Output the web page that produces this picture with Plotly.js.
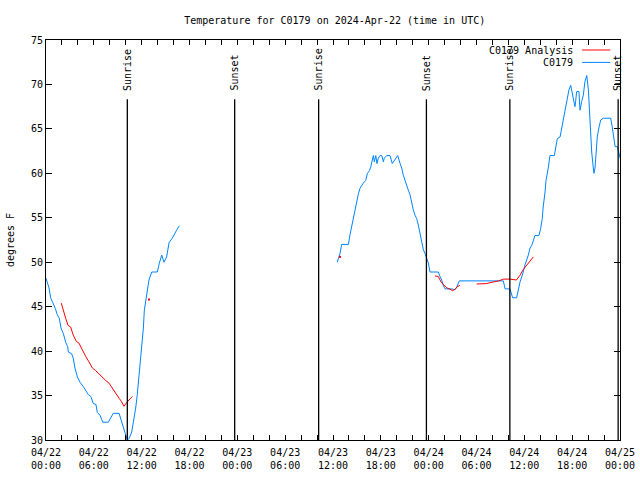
<!DOCTYPE html>
<html>
<head>
<meta charset="utf-8">
<script src="https://cdn.plot.ly/plotly-3.0.1.min.js"></script>
<style>html,body{margin:0;padding:0;background:#fff;}#chart{width:640px;height:480px;}</style>
</head>
<body>
<div id="chart"></div>
<script>
// ---- Data ----
const blueTimes = [
"2024-04-22 00:00","2024-04-22 00:05","2024-04-22 00:23","2024-04-22 00:35","2024-04-22 00:55","2024-04-22 01:10",
"2024-04-22 01:25","2024-04-22 01:40","2024-04-22 01:53","2024-04-22 02:10","2024-04-22 02:28","2024-04-22 02:43",
"2024-04-22 02:48","2024-04-22 03:13","2024-04-22 03:25","2024-04-22 03:38","2024-04-22 03:56","2024-04-22 04:16",
"2024-04-22 04:41","2024-04-22 05:01","2024-04-22 05:19","2024-04-22 05:37","2024-04-22 05:56","2024-04-22 06:16",
"2024-04-22 06:26","2024-04-22 06:46","2024-04-22 07:07","2024-04-22 07:49","2024-04-22 08:26","2024-04-22 09:10",
"2024-04-22 09:30","2024-04-22 09:55","2024-04-22 10:12","2024-04-22 10:27","2024-04-22 10:45","2024-04-22 10:57",
"2024-04-22 11:15","2024-04-22 11:27","2024-04-22 11:40","2024-04-22 11:53","2024-04-22 12:13","2024-04-22 12:20",
"2024-04-22 12:38","2024-04-22 12:55","2024-04-22 13:16","2024-04-22 13:58","2024-04-22 14:13","2024-04-22 14:31",
"2024-04-22 14:48","2024-04-22 15:08","2024-04-22 15:26","2024-04-22 15:50","2024-04-22 16:23","2024-04-22 16:43",
"2024-04-23 00:00",
"2024-04-23 12:32","2024-04-23 12:45","2024-04-23 12:53","2024-04-23 13:05","2024-04-23 13:56","2024-04-23 14:08",
"2024-04-23 14:20","2024-04-23 14:33","2024-04-23 14:46","2024-04-23 14:58","2024-04-23 15:11","2024-04-23 15:23",
"2024-04-23 15:36","2024-04-23 15:48","2024-04-23 16:06","2024-04-23 16:19","2024-04-23 16:34","2024-04-23 16:44",
"2024-04-23 16:56","2024-04-23 17:04","2024-04-23 17:11","2024-04-23 17:22","2024-04-23 17:31","2024-04-23 17:41",
"2024-04-23 17:54","2024-04-23 18:07","2024-04-23 18:19","2024-04-23 18:26","2024-04-23 18:44","2024-04-23 19:09",
"2024-04-23 19:26","2024-04-23 19:47","2024-04-23 20:07","2024-04-23 20:25","2024-04-23 20:37","2024-04-23 20:49",
"2024-04-23 21:02","2024-04-23 21:14","2024-04-23 21:27","2024-04-23 21:40","2024-04-23 21:52","2024-04-23 22:04",
"2024-04-23 22:17","2024-04-23 22:30","2024-04-23 22:42","2024-04-23 22:55","2024-04-23 23:07","2024-04-23 23:20",
"2024-04-23 23:32","2024-04-23 23:45","2024-04-23 23:58","2024-04-24 00:10","2024-04-24 01:13","2024-04-24 01:25",
"2024-04-24 01:38","2024-04-24 01:50","2024-04-24 02:03","2024-04-24 02:53","2024-04-24 03:18","2024-04-24 03:31",
"2024-04-24 03:51","2024-04-24 09:22","2024-04-24 09:35","2024-04-24 10:12","2024-04-24 10:32","2024-04-24 11:02",
"2024-04-24 11:15","2024-04-24 11:28","2024-04-24 11:48","2024-04-24 12:05","2024-04-24 12:30","2024-04-24 12:43",
"2024-04-24 12:56","2024-04-24 13:20","2024-04-24 13:50","2024-04-24 14:03","2024-04-24 14:15","2024-04-24 14:21",
"2024-04-24 14:36","2024-04-24 14:43","2024-04-24 15:00","2024-04-24 15:13","2024-04-24 15:46","2024-04-24 15:58",
"2024-04-24 16:08","2024-04-24 16:29","2024-04-24 16:41","2024-04-24 16:53","2024-04-24 17:06","2024-04-24 17:19",
"2024-04-24 17:36","2024-04-24 17:49","2024-04-24 18:00","2024-04-24 18:12","2024-04-24 18:21","2024-04-24 18:26",
"2024-04-24 18:34","2024-04-24 18:51","2024-04-24 18:59","2024-04-24 19:12","2024-04-24 19:24","2024-04-24 19:36",
"2024-04-24 19:50","2024-04-24 20:02","2024-04-24 20:14","2024-04-24 20:27","2024-04-24 20:39","2024-04-24 20:44",
"2024-04-24 20:52","2024-04-24 20:59","2024-04-24 21:09","2024-04-24 21:22","2024-04-24 21:35","2024-04-24 21:55",
"2024-04-24 22:50","2024-04-24 23:02","2024-04-24 23:15","2024-04-24 23:23","2024-04-24 23:40","2024-04-24 23:53",
"2024-04-25 00:05"
];
const blueTemps = [
48.2,48.0,47.1,46.0,45.4,44.8,
44.1,43.7,42.6,42.0,41.0,40.5,
39.9,39.7,39.2,38.1,37.1,36.5,
36.0,35.6,35.1,34.9,34.1,34.0,
33.1,32.8,32.0,32.0,33.0,33.0,
31.9,30.8,30.0,30.2,30.9,31.9,
33.6,35.1,37.1,39.3,42.6,44.6,
46.3,48.0,48.9,48.9,49.9,50.8,
50.0,50.6,52.2,52.7,53.6,54.1,
null,
50.0,50.6,51.0,52.0,52.0,53.1,
54.0,54.9,56.2,57.0,57.7,58.3,
58.7,58.9,59.2,60.0,60.3,60.7,
61.5,62.0,61.3,62.0,61.1,61.7,
62.0,62.0,61.3,61.7,62.0,62.0,
61.1,61.5,62.0,61.1,60.6,59.8,
59.2,58.5,58.1,57.6,56.6,55.9,
55.3,54.9,54.2,53.2,52.3,51.4,
51.0,50.4,49.9,48.9,48.9,48.4,
48.0,47.4,47.0,47.0,46.9,47.2,
47.9,47.9,47.0,47.0,46.0,46.0,
47.0,47.8,48.7,49.7,50.8,51.6,
51.9,53.0,53.0,53.8,54.9,56.1,
57.9,59.2,60.6,62.0,62.0,63.0,
63.9,64.1,65.1,66.2,67.3,68.2,
69.4,69.9,69.2,68.1,67.5,68.1,
69.2,69.2,67.1,68.1,68.8,70.3,
71.0,69.4,65.2,62.4,60.6,60.0,
60.6,62.0,64.1,65.2,66.0,66.2,
66.2,65.2,63.7,63.0,63.0,62.0,
61.5
];

const redTimes = [
"2024-04-22 01:55","2024-04-22 02:08","2024-04-22 02:28","2024-04-22 02:46","2024-04-22 03:06","2024-04-22 03:25",
"2024-04-22 03:48","2024-04-22 04:08","2024-04-22 04:33","2024-04-22 04:59","2024-04-22 05:23","2024-04-22 05:49",
"2024-04-22 06:14","2024-04-22 06:39","2024-04-22 07:04","2024-04-22 07:29","2024-04-22 07:54","2024-04-22 08:19",
"2024-04-22 08:44","2024-04-22 09:10","2024-04-22 09:29","2024-04-22 09:47","2024-04-22 10:12","2024-04-22 10:50",
"2024-04-23 00:00",
"2024-04-24 00:48","2024-04-24 01:12","2024-04-24 01:36","2024-04-24 02:03","2024-04-24 02:18","2024-04-24 02:42",
"2024-04-24 03:00","2024-04-24 03:18","2024-04-24 03:36","2024-04-24 03:56",
"2024-04-24 05:00",
"2024-04-24 06:01","2024-04-24 06:38","2024-04-24 07:16","2024-04-24 07:42","2024-04-24 08:18","2024-04-24 08:48",
"2024-04-24 09:22","2024-04-24 10:12","2024-04-24 11:00","2024-04-24 11:28","2024-04-24 11:53","2024-04-24 12:18",
"2024-04-24 12:42","2024-04-24 13:08"
];
const redTemps = [
45.4,44.6,43.7,42.9,42.7,41.8,
41.1,40.9,40.1,39.4,38.8,38.1,
37.8,37.4,37.1,36.7,36.4,35.8,
35.2,34.7,34.3,33.8,34.3,34.9,
null,
48.45,48.4,47.7,47.25,47.1,46.95,
46.8,46.95,47.25,47.4,
null,
47.55,47.55,47.6,47.7,47.8,47.9,
48.1,48.1,48.0,48.55,49.2,49.7,
50.2,50.6
];
// isolated analysis values
const redDotTimes = ["2024-04-22 12:55","2024-04-23 12:53"];
const redDotTemps = [45.8, 50.6];

// sun events
const sunTimes = ["2024-04-22 10:12","2024-04-22 23:40","2024-04-23 10:12","2024-04-23 23:43","2024-04-24 10:11","2024-04-24 23:46"];
const sunLabels = ["Sunrise","Sunset","Sunrise","Sunset","Sunrise","Sunset"];

// x tick labels (every 6 h)
const xTickVals = ["2024-04-22 00:00","2024-04-22 06:00","2024-04-22 12:00","2024-04-22 18:00","2024-04-23 00:00","2024-04-23 06:00","2024-04-23 12:00","2024-04-23 18:00","2024-04-24 00:00","2024-04-24 06:00","2024-04-24 12:00","2024-04-24 18:00","2024-04-25 00:00"];
const xTickText = ["04/22<br>00:00","04/22<br>06:00","04/22<br>12:00","04/22<br>18:00","04/23<br>00:00","04/23<br>06:00","04/23<br>12:00","04/23<br>18:00","04/24<br>00:00","04/24<br>06:00","04/24<br>12:00","04/24<br>18:00","04/25<br>00:00"];
const yTickVals = [30,35,40,45,50,55,60,65,70,75];

const BLUE = "rgb(0,132,255)";
const RED = "rgb(255,0,0)";
const FONT = "DejaVu Sans Mono, Liberation Mono, monospace";

const traces = [
  {x: blueTimes, y: blueTemps, type: "scatter", mode: "lines", line: {color: BLUE, width: 1}, name: "C0179", showlegend: false, hoverinfo: "skip"},
  {x: redTimes, y: redTemps, type: "scatter", mode: "lines", line: {color: RED, width: 1}, name: "C0179 Analysis", showlegend: false, hoverinfo: "skip"},
  {x: redDotTimes, y: redDotTemps, type: "scatter", mode: "markers", marker: {color: RED, size: 2, symbol: "square"}, showlegend: false, hoverinfo: "skip"}
];

const shapes = [];
const annotations = [];
sunTimes.forEach((t, i) => {
  shapes.push({type: "line", xref: "x", yref: "paper", x0: t, x1: t, y0: 0, y1: 0.852, line: {color: "#000", width: 1.3}});
  annotations.push({xref: "x", yref: "paper", x: t, y: 0.868, text: sunLabels[i], textangle: -90, showarrow: false,
    xanchor: "center", yanchor: "bottom", font: {family: FONT, size: 10, color: "#000"}});
});
// legend (gnuplot style: text then line sample)
annotations.push({xref: "paper", yref: "paper", x: 0.922, y: 0.975, text: "C0179 Analysis", showarrow: false, xanchor: "right", yanchor: "middle", font: {family: FONT, size: 10, color: "#000"}});
annotations.push({xref: "paper", yref: "paper", x: 0.922, y: 0.944, text: "C0179", showarrow: false, xanchor: "right", yanchor: "middle", font: {family: FONT, size: 10, color: "#000"}});
shapes.push({type: "line", xref: "paper", yref: "paper", x0: 0.934, x1: 0.983, y0: 0.975, y1: 0.975, line: {color: RED, width: 1}});
shapes.push({type: "line", xref: "paper", yref: "paper", x0: 0.934, x1: 0.983, y0: 0.944, y1: 0.944, line: {color: BLUE, width: 1}});

const layout = {
  width: 640, height: 480,
  margin: {l: 46, r: 20, t: 40, b: 40, pad: 0},
  paper_bgcolor: "#fff", plot_bgcolor: "#fff",
  font: {family: FONT, size: 10, color: "#000"},
  title: {text: "Temperature for C0179 on 2024-Apr-22 (time in UTC)", font: {family: FONT, size: 10, color: "#000"}, x: 0.523, xanchor: "center", y: 0.958, yanchor: "middle"},
  showlegend: false,
  xaxis: {
    type: "date", range: ["2024-04-22 00:00", "2024-04-25 00:00"],
    tickmode: "array", tickvals: xTickVals, ticktext: xTickText,
    ticks: "inside", ticklen: 5, tickcolor: "#000", tickwidth: 1,
    minor: {dtick: 7200000, tick0: "2024-04-22 00:00", ticks: "inside", ticklen: 5, tickcolor: "#000", tickwidth: 1, showgrid: false},
    showline: true, linecolor: "#000", linewidth: 1, mirror: "allticks",
    showgrid: false, zeroline: false, tickangle: 0, ticklabelstandoff: 3,
    tickfont: {family: FONT, size: 10, color: "#000"}
  },
  yaxis: {
    range: [30, 75], tickmode: "array", tickvals: yTickVals,
    ticks: "inside", ticklen: 6, tickcolor: "#000", tickwidth: 1,
    showline: true, linecolor: "#000", linewidth: 1, mirror: "allticks",
    showgrid: false, zeroline: false,
    tickfont: {family: FONT, size: 10, color: "#000"},
    title: {text: "degrees F", font: {family: FONT, size: 10, color: "#000"}, standoff: 14}
  },
  shapes: shapes,
  annotations: annotations
};

Plotly.newPlot("chart", traces, layout, {staticPlot: true, displayModeBar: false});
</script>
</body>
</html>
